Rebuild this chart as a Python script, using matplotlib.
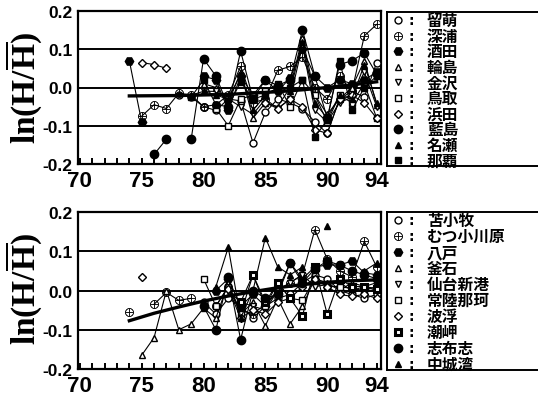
import matplotlib
matplotlib.use("Agg")
import matplotlib.pyplot as plt
import numpy as np

nan = np.nan
years = list(range(74, 95))

# upper panel: Sea of Japan side stations
top_names = ["留萌", "深浦", "酒田", "輪島", "金沢", "鳥取", "浜田", "藍島", "名瀬", "那覇"]
rumoi = [nan, nan, nan, nan, -0.02, -0.025, -0.05, -0.06, -0.03, -0.035, -0.145, -0.065, -0.03, -0.04, -0.055, -0.09, -0.12, -0.03, -0.01, -0.025, 0.065]
fukaura = [nan, -0.075, -0.045, -0.055, -0.015, -0.02, -0.05, -0.045, -0.02, 0.055, -0.04, -0.03, 0.045, 0.055, 0.08, 0.0, -0.03, 0.03, -0.01, 0.135, 0.165]
sakata = [0.07, -0.09, nan, nan, nan, nan, 0.03, 0.02, -0.06, 0.03, -0.02, 0.02, -0.01, 0.025, 0.10, 0.03, 0.0, 0.02, 0.01, 0.02, 0.04]
wajima = [nan, nan, nan, nan, nan, nan, 0.01, 0.0, -0.04, 0.04, -0.08, -0.04, -0.05, 0.0, 0.13, -0.02, -0.07, -0.03, 0.0, 0.07, -0.045]
kanazawa = [nan, nan, nan, nan, nan, nan, -0.01, -0.01, -0.03, -0.05, -0.07, -0.03, -0.055, -0.03, 0.11, -0.06, -0.09, -0.04, -0.025, 0.04, -0.05]
tottori = [nan, nan, nan, nan, nan, nan, nan, -0.055, -0.1, -0.03, -0.02, -0.01, 0.01, -0.05, 0.02, -0.02, -0.09, -0.02, -0.04, 0.01, -0.08]
hamada = [nan, 0.065, 0.06, 0.05, nan, nan, nan, nan, nan, nan, nan, -0.04, -0.055, -0.03, -0.05, -0.11, -0.12, -0.03, -0.02, -0.04, -0.08]
aishima = [nan, nan, -0.175, -0.135, nan, -0.135, 0.075, 0.03, -0.05, 0.095, -0.03, 0.02, 0.005, 0.02, 0.15, 0.03, -0.08, 0.06, 0.07, 0.09, 0.035]
naze = [nan, nan, nan, nan, nan, -0.02, -0.01, -0.02, -0.03, 0.035, -0.06, -0.02, 0.0, -0.01, 0.12, -0.04, -0.08, -0.02, -0.03, 0.06, -0.04]
naha = [nan, nan, nan, nan, nan, -0.025, 0.02, -0.045, -0.05, 0.015, -0.03, -0.02, 0.0, 0.0, 0.02, -0.13, -0.085, 0.07, -0.06, 0.0, 0.03]
top_series = [rumoi, fukaura, sakata, wajima, kanazawa, tottori, hamada, aishima, naze, naha]
top_trend_years = [74, 78, 82, 86, 88, 90, 92, 94]
top_trend = [-0.022, -0.021, -0.018, -0.011, -0.006, 0.0, 0.007, 0.015]

# lower panel: Pacific side stations
bot_names = ["苫小牧", "むつ小川原", "八戸", "釜石", "仙台新港", "常陸那珂", "波浮", "潮岬", "志布志", "中城湾"]
tomakomai = [nan, nan, nan, nan, nan, nan, -0.03, -0.06, -0.02, -0.04, -0.07, -0.04, -0.02, -0.01, 0.02, 0.04, 0.03, 0.0, -0.01, -0.02, -0.01]
mutsu = [-0.055, nan, -0.035, -0.005, -0.025, -0.02, nan, -0.04, 0.01, -0.05, -0.06, -0.035, 0.0, 0.02, 0.04, 0.155, 0.08, 0.05, 0.035, 0.125, 0.06]
hachinohe = [nan, nan, nan, nan, nan, nan, nan, 0.0, 0.03, -0.04, -0.01, -0.04, 0.0, 0.07, 0.03, 0.06, 0.065, 0.065, 0.075, 0.045, 0.04]
kamaishi = [nan, -0.165, -0.12, 0.0, -0.1, -0.085, -0.045, -0.07, 0.02, -0.06, -0.03, -0.09, -0.02, -0.085, -0.04, 0.03, 0.02, 0.0, 0.02, 0.01, 0.02]
sendai = [nan, nan, nan, nan, nan, nan, nan, nan, 0.0, -0.03, -0.04, -0.05, 0.0, 0.02, 0.04, 0.01, 0.015, 0.02, 0.0, 0.01, 0.0]
hitachinaka = [nan, nan, nan, nan, nan, nan, 0.03, -0.04, 0.01, -0.06, 0.04, -0.04, 0.02, -0.02, -0.025, 0.03, 0.01, 0.01, 0.005, 0.0, 0.01]
habu = [nan, 0.035, nan, nan, nan, nan, nan, nan, 0.005, -0.07, -0.05, -0.06, -0.03, -0.02, 0.01, 0.03, 0.01, -0.01, -0.015, -0.01, -0.02]
shionomisaki = [nan, nan, nan, nan, nan, nan, nan, nan, nan, -0.03, 0.04, -0.03, 0.02, -0.02, -0.065, 0.06, -0.06, 0.03, 0.01, 0.01, 0.005]
shibushi = [nan, nan, nan, nan, nan, nan, -0.04, -0.1, 0.035, -0.125, 0.0, -0.02, -0.01, 0.07, 0.02, 0.055, 0.075, 0.065, 0.05, 0.04, 0.03]
nakagusuku = [nan, nan, nan, nan, nan, nan, nan, 0.01, 0.11, -0.07, 0.0, 0.135, 0.06, 0.04, 0.06, nan, 0.165, nan, nan, 0.05, 0.07]
bot_series = [tomakomai, mutsu, hachinohe, kamaishi, sendai, hitachinaka, habu, shionomisaki, shibushi, nakagusuku]
bot_trend_years = [74, 76, 78, 80, 82, 84, 86, 88, 90, 92, 94]
bot_trend = [-0.077, -0.058, -0.042, -0.027, -0.014, -0.003, 0.007, 0.015, 0.021, 0.025, 0.027]

# marker styles for the 10 stations of each panel
ring = dict(marker="o", mfc="w", ms=5, mew=1.0)
cross = dict(marker=r"$\oplus$", mfc="k", ms=6, mew=0.3)
hexa = dict(marker="H", mfc="k", ms=6, mew=1.0)
up = dict(marker="^", mfc="w", ms=5, mew=1.0)
down = dict(marker="v", mfc="w", ms=5, mew=1.0)
box = dict(marker="s", mfc="w", ms=5, mew=1.0)
diam = dict(marker="D", mfc="w", ms=4.5, mew=1.0)
dot = dict(marker="o", mfc="k", ms=6, mew=1.0)
tri = dict(marker="^", mfc="k", ms=4, mew=1.0)
sq = dict(marker="s", mfc="k", ms=5, mew=1.0)
thick_box = dict(marker="s", mfc="w", ms=5, mew=2.2)
top_styles = [ring, cross, hexa, up, down, box, diam, dot, tri, sq]
bot_styles = [ring, cross, hexa, up, down, box, diam, thick_box, dot, tri]

plt.rcParams["mathtext.fontset"] = "custom"
plt.rcParams["mathtext.rm"] = "Liberation Serif:bold"

fig = plt.figure(figsize=(5.38, 4.06), dpi=100)
W, H = 538.0, 406.0


def draw_panel(rect, series, styles, trend_years, trend):
    ax = fig.add_axes(rect)
    for yv in (0.1, 0.0, -0.1):
        ax.axhline(yv, color="k", lw=1.4, zorder=1)
    for vals, st in zip(series, styles):
        ax.plot(years, vals, color="k", lw=0.8, marker=st["marker"], ms=st["ms"],
                mfc=st["mfc"], mec="k", mew=st["mew"], zorder=3)
    ax.plot(trend_years, trend, color="k", lw=2.4, zorder=4)
    ax.set_xlim(69.85, 94.35)
    ax.set_ylim(-0.2, 0.2)
    ax.set_xticks([70, 75, 80, 85, 90, 94])
    ax.set_xticks(range(70, 95), minor=True)
    ax.set_yticks([-0.2, -0.1, 0.0, 0.1, 0.2])
    ax.set_yticklabels(["-0.2", "-0.1", "0.0", "0.1", "0.2"],
                       fontfamily="Liberation Sans", fontweight="bold", fontsize=12.5)
    ax.set_xticklabels(["70", "75", "80", "85", "90", "94"],
                       fontfamily=["Liberation Sans Narrow", "Liberation Sans"],
                       fontweight="bold", fontsize=16)
    ax.tick_params(axis="x", which="both", direction="in", length=4, width=1.4,
                   pad=4, top=False)
    ax.tick_params(axis="y", length=0, pad=4)
    for sp in ax.spines.values():
        sp.set_linewidth(1.6)
    return ax


def draw_legend(rect, names, styles, pitch, height):
    lg = fig.add_axes(rect)
    lg.set_xlim(0, 151)
    lg.set_ylim(height, 0)
    lg.set_xticks([])
    lg.set_yticks([])
    lg.spines["right"].set_visible(False)
    for sp in lg.spines.values():
        sp.set_linewidth(1.4)
    for i, (name, st) in enumerate(zip(names, styles)):
        yy = 8 + i * pitch
        lg.plot([11], [yy], marker=st["marker"], ms=st["ms"], mfc=st["mfc"],
                mec="k", mew=st["mew"], color="k")
        lg.text(22, yy, ":", fontsize=10, fontweight="bold", va="center", ha="left")
        lg.text(40, yy, name, fontsize=11.3, fontweight="bold", va="center", ha="left",
                fontfamily=["Noto Sans CJK JP", "DejaVu Sans"])
    return lg


ax1 = draw_panel([78 / W, 1 - 165 / H, 303 / W, 153 / H], top_series, top_styles,
                 top_trend_years, top_trend)
ax2 = draw_panel([78 / W, 1 - 370 / H, 303 / W, 157 / H], bot_series, bot_styles,
                 bot_trend_years, bot_trend)

draw_legend([387 / W, 1 - 167 / H, 1 - 387 / W, 154 / H], top_names, top_styles, 15.6, 154)
draw_legend([387 / W, 1 - 371 / H, 1 - 387 / W, 158 / H], bot_names, bot_styles, 16.0, 158)

ylab = r"$\mathrm{ln(H/\overline{H})}$"
fig.text(24 / W, 1 - 88 / H, ylab, rotation=90, fontsize=24, ha="center", va="center")
fig.text(24 / W, 1 - 289 / H, ylab, rotation=90, fontsize=24, ha="center", va="center")

fig.savefig("out.png", dpi=100)
